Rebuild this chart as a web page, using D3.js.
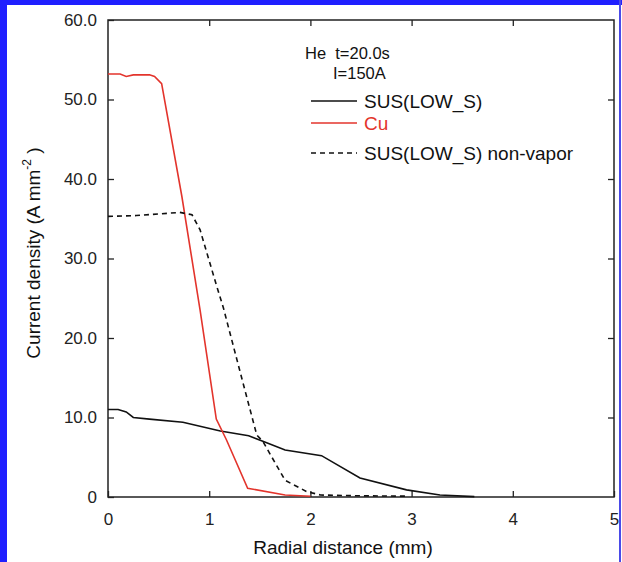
<!DOCTYPE html>
<html>
<head>
<meta charset="utf-8">
<script src="https://cdn.jsdelivr.net/npm/d3@7"></script>
<style>
  html, body { margin: 0; padding: 0; background: #fff; }
  svg { display: block; font-family: "Liberation Sans", Arial, sans-serif; }
</style>
</head>
<body>
<div id="chart"></div>
<script>
// radial distance (mm) vs current density (A mm^-2)
const susR = [0, 0.10, 0.18, 0.25, 0.41, 0.74, 1.11, 1.39, 1.53, 1.75, 2.11, 2.49, 2.95, 3.28, 3.62];
const susJ = [11.0, 11.0, 10.7, 10.0, 9.8, 9.4, 8.3, 7.7, 7.0, 5.9, 5.2, 2.4, 0.9, 0.25, 0.05];

const cuR = [0, 0.12, 0.18, 0.25, 0.41, 0.46, 0.53, 0.73, 0.91, 1.07, 1.17, 1.38, 1.75, 2.0];
const cuJ = [53.2, 53.2, 52.9, 53.1, 53.1, 52.9, 52.0, 37.8, 23.5, 9.8, 7.2, 1.1, 0.25, 0.1];

const nvR = [0, 0.28, 0.71, 0.83, 0.91, 1.07, 1.14, 1.30, 1.47, 1.53, 1.75, 1.96, 2.10, 2.50, 2.97];
const nvJ = [35.3, 35.4, 35.8, 35.5, 33.6, 26.7, 23.8, 16.0, 7.8, 7.0, 2.1, 0.7, 0.25, 0.15, 0.1];

const xTicks = [0, 1, 2, 3, 4, 5];
const yTicks = [0, 10, 20, 30, 40, 50, 60];
const yTickLabels = ['0', '10.0', '20.0', '30.0', '40.0', '50.0', '60.0'];

const seriesList = [
  { name: 'SUS(LOW_S)', r: susR, j: susJ, color: '#111', dash: null, textColor: '#111' },
  { name: 'Cu', r: cuR, j: cuJ, color: '#e3342c', dash: null, textColor: '#e3342c' },
  { name: 'SUS(LOW_S) non-vapor', r: nvR, j: nvJ, color: '#111', dash: '5,4', textColor: '#111' },
];

const W = 622, H = 562;
const M = { top: 20, right: 8, bottom: 65, left: 108 };
const innerW = 614 - M.left, innerH = 497 - M.top;

const svg = d3.select('#chart').append('svg').attr('width', W).attr('height', H);

// blue frame around the figure
svg.append('rect').attr('x', 0).attr('y', 0).attr('width', W).attr('height', 5).attr('fill', '#1f1fff');
svg.append('rect').attr('x', 0).attr('y', 0).attr('width', 7).attr('height', H).attr('fill', '#1f1fff');
svg.append('rect').attr('x', 619).attr('y', 0).attr('width', 2).attr('height', H).attr('fill', '#4a4ae8');

const inner = svg.append('g').attr('transform', `translate(${M.left},${M.top})`);

const x = d3.scaleLinear().domain([0, 5]).range([0, innerW]);
const y = d3.scaleLinear().domain([0, 60]).range([innerH, 0]);

function styleAxis(g) {
  g.select('.domain').remove();
  g.selectAll('.tick line').attr('stroke', '#222').attr('stroke-width', 1.3);
  g.selectAll('.tick text').attr('fill', '#222').style('font-size', '17px');
}

inner.append('g').attr('transform', `translate(0,${innerH})`)
  .call(d3.axisBottom(x).tickValues(xTicks).tickSize(-6).tickPadding(16).tickFormat(d3.format('d')))
  .call(styleAxis);
inner.append('g')
  .call(d3.axisTop(x).tickValues(xTicks.slice(1, -1)).tickSize(-6).tickFormat(''))
  .call(styleAxis);
inner.append('g')
  .call(d3.axisLeft(y).tickValues(yTicks).tickSize(-6).tickPadding(11)
    .tickFormat((d, i) => yTickLabels[i]))
  .call(styleAxis);
inner.append('g').attr('transform', `translate(${innerW},0)`)
  .call(d3.axisRight(y).tickValues(yTicks.slice(1, -1)).tickSize(-6).tickFormat(''))
  .call(styleAxis);

inner.append('rect').attr('width', innerW).attr('height', innerH)
  .attr('fill', 'none').attr('stroke', '#222').attr('stroke-width', 1.5);

const line = d3.line().x(d => x(d[0])).y(d => y(d[1]));

seriesList.forEach(s => {
  inner.append('path')
    .datum(d3.zip(s.r, s.j))
    .attr('d', line)
    .attr('fill', 'none')
    .attr('stroke', s.color)
    .attr('stroke-width', 1.6)
    .attr('stroke-dasharray', s.dash);
});

// annotation + legend
const note = svg.append('g').style('font-size', '16.5px').attr('fill', '#111');
note.append('text').attr('x', 305).attr('y', 59).style('white-space', 'pre').text('He  t=20.0s');
note.append('text').attr('x', 333).attr('y', 79).text('I=150A');

const legY = [101, 123, 153];
seriesList.forEach((s, i) => {
  svg.append('line')
    .attr('x1', 311).attr('x2', 357).attr('y1', legY[i]).attr('y2', legY[i])
    .attr('stroke', s.color).attr('stroke-width', 1.6).attr('stroke-dasharray', s.dash);
  svg.append('text').attr('x', 364).attr('y', legY[i] + 7)
    .style('font-size', '19px').attr('fill', s.textColor).text(s.name);
});

// axis titles
svg.append('text').attr('x', 343).attr('y', 554).attr('text-anchor', 'middle')
  .style('font-size', '19px').attr('fill', '#111').text('Radial distance (mm)');

const yt = svg.append('text')
  .attr('transform', 'translate(40,253) rotate(-90)')
  .attr('text-anchor', 'middle').style('font-size', '19px').attr('fill', '#111');
yt.append('tspan').text('Current density (A mm');
yt.append('tspan').attr('dy', -9).style('font-size', '12px').text('-2');
yt.append('tspan').attr('dy', 9).text(' )');
</script>
</body>
</html>
